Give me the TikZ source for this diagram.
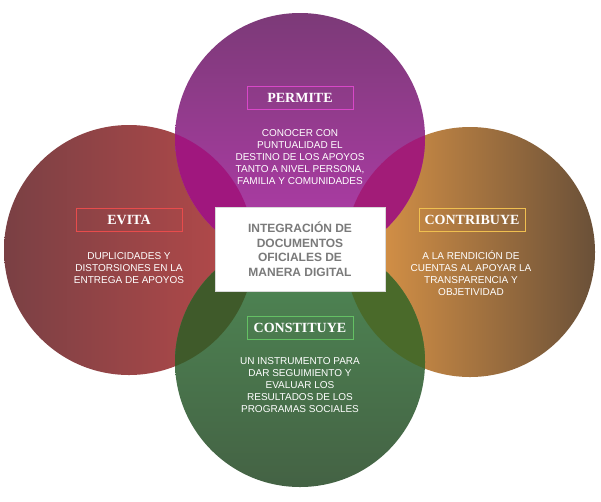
\documentclass[tikz,border=0pt]{standalone}
\usepackage{fontspec}
\setmainfont{Liberation Serif}
\setsansfont{Liberation Sans}
\definecolor{topA}{HTML}{7C3A78}
\definecolor{topB}{HTML}{B43CAC}
\definecolor{leftA}{HTML}{7A4044}
\definecolor{leftB}{HTML}{B84A4A}
\definecolor{rightA}{HTML}{E49A48}
\definecolor{rightB}{HTML}{6A5038}
\definecolor{botA}{HTML}{4F8A55}
\definecolor{botB}{HTML}{446244}
\definecolor{ovTL}{HTML}{A0177E}
\definecolor{ovTR}{HTML}{A21C78}
\definecolor{ovBL}{HTML}{3F5A2A}
\definecolor{ovBR}{HTML}{4A6A2A}
\definecolor{bdTop}{HTML}{D848C8}
\definecolor{bdLeft}{HTML}{E84C4C}
\definecolor{bdRight}{HTML}{F0C050}
\definecolor{bdBot}{HTML}{64C064}
\definecolor{centerText}{HTML}{7A7A7A}
\begin{document}
\begin{tikzpicture}[x=1pt,y=-1pt,
  titlebox/.style={draw, line width=1pt, text=white, font=\rmfamily\bfseries\fontsize{14}{16}\selectfont, minimum width=106pt, minimum height=23pt, inner sep=0pt},
  body/.style={text=white, font=\sffamily\fontsize{10}{12}\selectfont, align=center, inner sep=0pt},
  centerbox/.style={fill=white, draw=black!15, line width=0.6pt, minimum width=170pt, minimum height=84pt, inner sep=0pt, align=center, text=centerText, font=\sffamily\bfseries\fontsize{12}{14.5}\selectfont}]
\useasboundingbox (0,0) rectangle (601,501);
\fill[white] (0,0) rectangle (601,501);
% circles
\coordinate (cT) at (300,138);
\coordinate (cB) at (300,362);
\coordinate (cL) at (129,250);
\coordinate (cR) at (470,252);
\shade[left color=leftA, right color=leftB] (cL) circle[radius=125pt];
\shade[left color=rightA, right color=rightB] (cR) circle[radius=125pt];
\shade[top color=topA, bottom color=topB] (cT) circle[radius=125pt];
\shade[top color=botA, bottom color=botB] (cB) circle[radius=125pt];
% overlaps
\begin{scope}
  \clip (cL) circle[radius=125pt];
  \fill[ovTL] (cT) circle[radius=125pt];
  \fill[ovBL] (cB) circle[radius=125pt];
\end{scope}
\begin{scope}
  \clip (cR) circle[radius=125pt];
  \fill[ovTR] (cT) circle[radius=125pt];
  \fill[ovBR] (cB) circle[radius=125pt];
\end{scope}
% center
\node[centerbox] (center) at (300,249) {INTEGRACIÓN DE\\DOCUMENTOS\\OFICIALES DE\\MANERA DIGITAL};
% titles
\node[titlebox, draw=bdTop] (tPermite) at (300,97.5) {PERMITE};
\node[titlebox, draw=bdLeft] (tEvita) at (129,219.5) {EVITA};
\node[titlebox, draw=bdRight] (tContrib) at (472,219.5) {CONTRIBUYE};
\node[titlebox, draw=bdBot] (tConst) at (300,327.5) {CONSTITUYE};
% bodies
\node[body] (bPermite) at (300,157) {CONOCER CON\\PUNTUALIDAD EL\\DESTINO DE LOS APOYOS\\TANTO A NIVEL PERSONA,\\FAMILIA Y COMUNIDADES};
\node[body] (bEvita) at (129,268) {DUPLICIDADES Y\\DISTORSIONES EN LA\\ENTREGA DE APOYOS};
\node[body] (bContrib) at (471,273) {A LA RENDICIÓN DE\\CUENTAS AL APOYAR LA\\TRANSPARENCIA Y\\OBJETIVIDAD};
\node[body] (bConst) at (300,385) {UN INSTRUMENTO PARA\\DAR SEGUIMIENTO Y\\EVALUAR LOS\\RESULTADOS DE LOS\\PROGRAMAS SOCIALES};
\end{tikzpicture}
\end{document}
